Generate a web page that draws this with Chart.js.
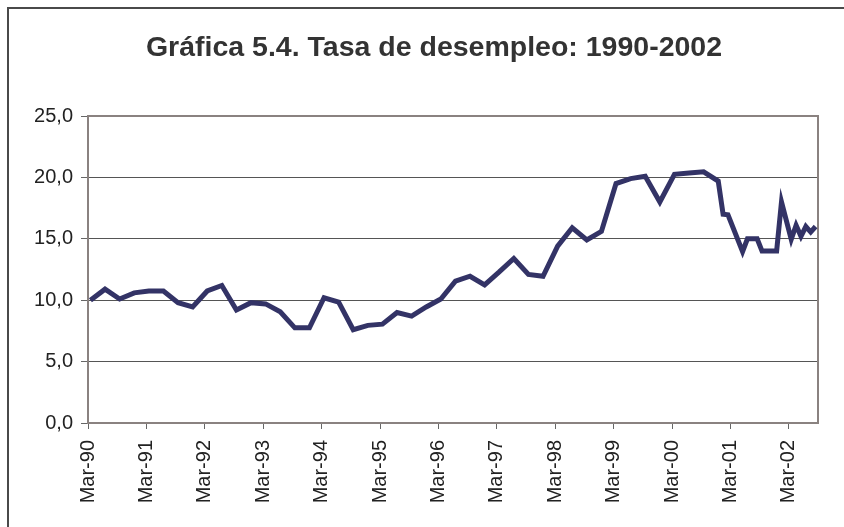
<!DOCTYPE html>
<html>
<head>
<meta charset="utf-8">
<script src="https://cdn.jsdelivr.net/npm/chart.js@4"></script>
<style>
    html, body { margin: 0; padding: 0; background: #fff; }
    canvas { display: block; }
</style>
</head>
<body>
<canvas id="chart_desempleo" width="844" height="527"></canvas>
<script>
// =======================
// DATA
// =======================
const periods = [
    '1990-03', '1990-06', '1990-09', '1990-12',
    '1991-03', '1991-06', '1991-09', '1991-12',
    '1992-03', '1992-06', '1992-09', '1992-12',
    '1993-03', '1993-06', '1993-09', '1993-12',
    '1994-03', '1994-06', '1994-09', '1994-12',
    '1995-03', '1995-06', '1995-09', '1995-12',
    '1996-03', '1996-06', '1996-09', '1996-12',
    '1997-03', '1997-06', '1997-09', '1997-12',
    '1998-03', '1998-06', '1998-09', '1998-12',
    '1999-03', '1999-06', '1999-09', '1999-12',
    '2000-03', '2000-06', '2000-09', '2000-12',
    '2001-01', '2001-02', '2001-05', '2001-06', '2001-08', '2001-09', '2001-12',
    '2002-01', '2002-03', '2002-04', '2002-05', '2002-06', '2002-07', '2002-08'
];

const tasaDesempleo = [
    10.0, 10.9, 10.1, 10.6,
    10.75, 10.75, 9.8, 9.45,
    10.75, 11.2, 9.2, 9.8,
    9.7, 9.05, 7.75, 7.75,
    10.2, 9.85, 7.6, 7.95,
    8.05, 9.0, 8.7, 9.45,
    10.1, 11.55, 11.95, 11.25,
    12.3, 13.4, 12.1, 11.95,
    14.4, 15.9, 14.9, 15.6,
    19.5, 19.9, 20.1, 18.0,
    20.25, 20.35, 20.45, 19.7,
    17.0, 16.95, 13.95, 15.0, 15.0, 14.0, 14.0,
    18.0, 14.95, 16.1, 15.2, 16.0, 15.55, 16.0
];

const xTickLabels = ['Mar-90', 'Mar-91', 'Mar-92', 'Mar-93', 'Mar-94', 'Mar-95', 'Mar-96',
                     'Mar-97', 'Mar-98', 'Mar-99', 'Mar-00', 'Mar-01', 'Mar-02'];
const yTicks = [0, 5, 10, 15, 20, 25];

const TITLE = 'Gráfica 5.4. Tasa de desempleo: 1990-2002';

// month slot since Mar-90, point centred in its month (date axis)
function monthSlot(p) {
    const [y, m] = p.split('-').map(Number);
    return (y - 1990) * 12 + (m - 3) + 0.5;
}

const points = periods.map((p, i) => ({ x: monthSlot(p), y: tasaDesempleo[i] }));
const xTickPos = xTickLabels.map((_, i) => i * 12);

const FONT = "'Liberation Sans', Arial, sans-serif";

/* =========================
   FRAME + PLOT BORDER
========================= */
const framePlugin = {
    id: 'frame',
    beforeDraw(chart) {
        const ctx = chart.ctx;
        ctx.save();
        ctx.fillStyle = '#fff';
        ctx.fillRect(0, 0, chart.width, chart.height);
        ctx.strokeStyle = '#4a4a4a';
        ctx.lineWidth = 2;
        ctx.strokeRect(8, 8, 1000, 1000);
        ctx.restore();
    },
    beforeDatasetsDraw(chart) {
        const a = chart.chartArea;
        const ctx = chart.ctx;
        ctx.save();
        ctx.strokeStyle = '#8a8280';
        ctx.lineWidth = 2;
        ctx.strokeRect(a.left, a.top, a.right - a.left, a.bottom - a.top);
        ctx.restore();
    }
};

new Chart(document.getElementById('chart_desempleo'), {
    type: 'line',
    data: {
        datasets: [{
            label: 'Tasa de desempleo',
            data: points,
            borderColor: '#333366',
            borderWidth: 5,
            pointRadius: 0,
            tension: 0,
            fill: false
        }]
    },
    options: {
        responsive: false,
        animation: false,
        devicePixelRatio: 1,
        layout: { padding: { left: 24, right: 0, top: 0, bottom: 0 } },
        plugins: {
            legend: { display: false },
            tooltip: { enabled: false },
            title: {
                display: true,
                text: TITLE,
                color: '#333',
                font: { family: FONT, size: 28.5, weight: 'bold' },
                padding: { top: 31, bottom: 50.8 }
            }
        },
        scales: {
            x: {
                type: 'linear',
                min: 0,
                max: 150,
                afterBuildTicks: s => { s.ticks = xTickPos.map(v => ({ value: v })); },
                afterFit: s => { s.height = 104; },
                grid: { drawOnChartArea: false, tickLength: 6, tickColor: '#666' },
                border: { display: false },
                ticks: {
                    autoSkip: false,
                    minRotation: 90,
                    maxRotation: 90,
                    padding: 11,
                    color: '#222',
                    font: { family: FONT, size: 20 },
                    callback: (v, i) => xTickLabels[i]
                }
            },
            y: {
                min: 0,
                max: 25,
                afterBuildTicks: s => { s.ticks = yTicks.map(v => ({ value: v })); },
                afterFit: s => { s.width = 64; },
                grid: { color: '#555', lineWidth: 1, tickLength: 7, tickColor: '#666' },
                border: { display: false },
                ticks: {
                    padding: 8,
                    color: '#222',
                    font: { family: FONT, size: 20 },
                    callback: v => v.toFixed(1).replace('.', ',')
                }
            },
            // empty right-hand spacer, keeps the plot off the right edge
            yRight: {
                position: 'right',
                min: 0,
                max: 25,
                afterFit: s => { s.width = 26; },
                grid: { display: false },
                border: { display: false },
                ticks: { display: false }
            }
        }
    },
    plugins: [framePlugin]
});
</script>
</body>
</html>
